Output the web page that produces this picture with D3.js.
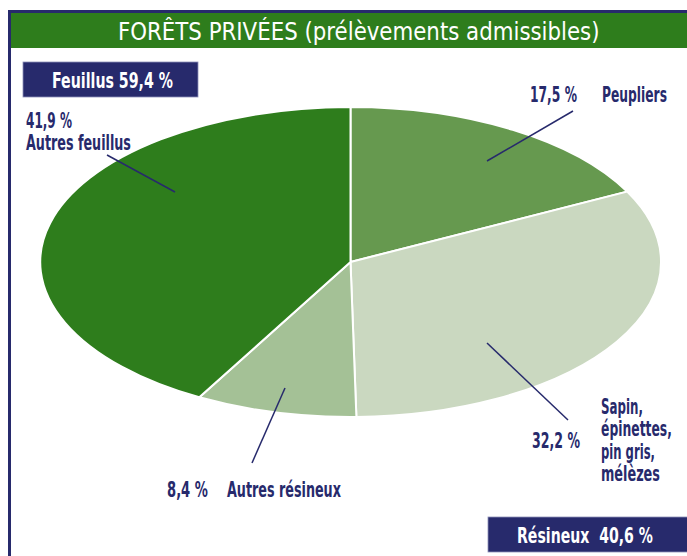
<!DOCTYPE html>
<html><head><meta charset="utf-8">
<script src="https://cdn.jsdelivr.net/npm/d3@7"></script>
<style>
html,body{margin:0;padding:0;background:#fff;}
svg{display:block;}
text{font-family:"DejaVu Sans","Liberation Sans",sans-serif;}
</style></head>
<body>
<script>
const categories = ["Peupliers", "Sapin, épinettes, pin gris, mélèzes", "Autres résineux", "Autres feuillus"];
const values = [17.5, 32.2, 8.4, 41.9];
const valueLabels = ["17,5 %", "32,2 %", "8,4 %", "41,9 %"];
const colors = ["#66994f", "#cad8c0", "#a4c196", "#2e7d1c"];
const groups = ["Feuillus 59,4 %", "Résineux  40,6 %"];
const title = "FORÊTS PRIVÉES (prélèvements admissibles)";

const W = 687, H = 556;
const navy = "#272a6c", green = "#2e7d1c";
const svg = d3.select("body").append("svg").attr("width", W).attr("height", H);

// frame
svg.append("rect").attr("x", 8).attr("y", 10).attr("width", W).attr("height", 3).attr("fill", navy);
svg.append("rect").attr("x", 8).attr("y", 10).attr("width", 3).attr("height", H).attr("fill", navy);
svg.append("rect").attr("x", 11).attr("y", 13).attr("width", W).attr("height", 35).attr("fill", green);

// condensed text: natural glyphs squeezed horizontally to the target width
function txt(x, y, t, o) {
  const e = svg.append("text")
    .attr("fill", o.fill || navy).attr("font-size", o.size || 21)
    .attr("font-weight", o.weight || "bold")
    .style("white-space", "pre")
    .text(t);
  const natural = e.node().getComputedTextLength();
  const sx = o.len ? o.len / natural : 1;
  e.attr("transform", `translate(${x},${y}) scale(${sx},1)`);
  return e;
}

txt(118, 40, title, {fill: "#fff", size: 24, weight: "normal", len: 482});

// pie
const cx = 350.5, cy = 262, rx = 310.5, ry = 155;
const pie = d3.pie().sort(null).value(d => d).startAngle(0).endAngle(2 * Math.PI);
const arc = d3.arc().innerRadius(0).outerRadius(1);
const arcs = pie(values);
const g = svg.append("g").attr("transform", `translate(${cx},${cy}) scale(${rx},${ry})`);
g.selectAll("path").data(arcs).join("path")
  .attr("d", arc)
  .attr("fill", (d, i) => colors[i])
  .attr("stroke", "#fff").attr("stroke-width", 2)
  .attr("vector-effect", "non-scaling-stroke");

// leader lines (annotation layout)
const leaders = [
  [[573, 111], [487, 161]],
  [[568, 420], [487, 343]],
  [[252, 463], [285, 388]],
  [[107, 155], [175, 192]]
];
svg.selectAll("line.leader").data(leaders).join("line")
  .attr("class", "leader")
  .attr("x1", d => d[0][0]).attr("y1", d => d[0][1])
  .attr("x2", d => d[1][0]).attr("y2", d => d[1][1])
  .attr("stroke", navy).attr("stroke-width", 1.5);

// Peupliers
txt(530, 102, valueLabels[0], {len: 47});
txt(602, 102, categories[0], {len: 65});
// Sapin
txt(532, 448, valueLabels[1], {len: 48});
const sapin = ["Sapin,", "épinettes,", "pin gris,", "mélèzes"];
const sapinLen = [42, 71, 54, 59];
sapin.forEach((t, i) => txt(601, 414 + i * 22.3, t, {len: sapinLen[i]}));
// Autres résineux
txt(167, 497, valueLabels[2], {len: 41});
txt(227, 497, categories[2], {len: 114});
// Autres feuillus
txt(26, 127.5, valueLabels[3], {len: 46});
txt(26, 149.8, categories[3], {len: 105});

// group boxes
svg.append("rect").attr("x", 23).attr("y", 62).attr("width", 175).attr("height", 35).attr("fill", navy)
  .attr("stroke", "#8d90b8").attr("stroke-width", 0.8);
txt(52, 88, groups[0], {fill: "#fff", size: 22, len: 121});
svg.append("rect").attr("x", 488).attr("y", 517).attr("width", 210).attr("height", 35).attr("fill", navy)
  .attr("stroke", "#8d90b8").attr("stroke-width", 0.8);
txt(517, 543, groups[1], {fill: "#fff", size: 22, len: 136});
</script>
</body></html>
